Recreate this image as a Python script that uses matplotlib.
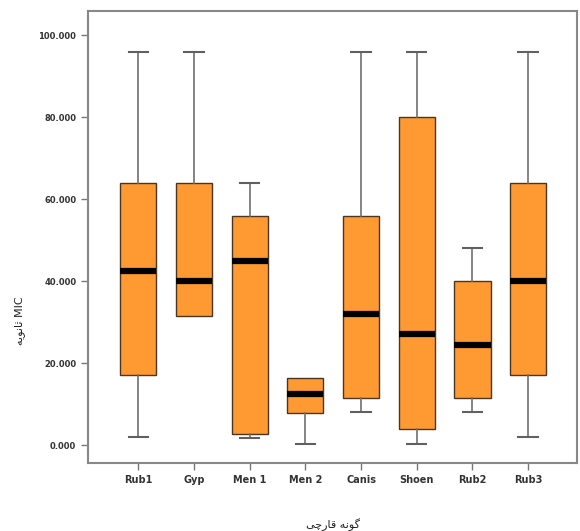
import matplotlib
matplotlib.use("Agg")
import matplotlib.pyplot as plt

# داده ها
groups = ["Rub1", "Gyp", "Men 1", "Men 2", "Canis", "Shoen", "Rub2", "Rub3"]
whis_low = [2, 31.5, 1.8, 0.3, 8, 0.3, 8, 2]
q1 = [17, 31.5, 2.8, 7.8, 11.5, 4, 11.5, 17]
median = [42.5, 40, 45, 12.5, 32, 27, 24.5, 40]
q3 = [64, 64, 56, 16.3, 56, 80, 40, 64]
whis_high = [96, 96, 64, 16.3, 96, 96, 48, 96]
yticks = [0, 20, 40, 60, 80, 100]

# Arabic/Persian text in presentation forms, visual order
ylabel = "\uFEEA\uFEF3\uFEEE\uFEE7\uFE8E\uFE9B MIC"
xlabel = "\uFEF0\uFB7C\uFEAD\uFE8E\uFED7 \uFEEA\uFEE7\uFEEE\uFB94"

stats = []
for i, g in enumerate(groups):
    stats.append({"label": g, "whislo": whis_low[i], "q1": q1[i], "med": median[i],
                  "q3": q3[i], "whishi": whis_high[i], "fliers": []})

fig = plt.figure(figsize=(5.8, 5.31), dpi=100)
ax = fig.add_axes([0.152, 0.128, 0.843, 0.851])

res = ax.bxp(stats, positions=range(1, 9), widths=0.65, patch_artist=True,
             boxprops=dict(facecolor="#FF9A33", edgecolor="#4a3522", linewidth=1.0),
             medianprops=dict(color="black", linewidth=4.5, solid_capstyle="butt"),
             whiskerprops=dict(color="#707070", linewidth=1.2),
             capprops=dict(color="#606060", linewidth=1.5),
             capwidths=0.35)

# hide caps where the whisker has no length
for i in range(len(groups)):
    if whis_low[i] == q1[i]:
        res["caps"][2 * i].set_visible(False)
    if whis_high[i] == q3[i]:
        res["caps"][2 * i + 1].set_visible(False)

ax.set_xlim(0.1, 8.88)
ax.set_ylim(-4.4, 105.9)
ax.set_yticks(yticks)
ax.set_yticklabels(["%.3f" % v for v in yticks], fontsize=6, fontweight="bold", color="#333333")
ax.set_xticks(range(1, 9))
ax.set_xticklabels(groups, fontsize=7, fontweight="bold", color="#333333")
ax.tick_params(direction="out", length=5, width=1, color="#777777")

for s in ax.spines.values():
    s.set_color("#888888")
    s.set_linewidth(1.5)

ax.set_ylabel(ylabel, fontsize=8, family=["DejaVu Sans"], color="#222222")
ax.yaxis.set_label_coords(-0.129, 0.315)
ax.set_xlabel(xlabel, fontsize=8, family=["DejaVu Sans"], color="#222222", labelpad=24)

fig.savefig("out.png", dpi=100)
